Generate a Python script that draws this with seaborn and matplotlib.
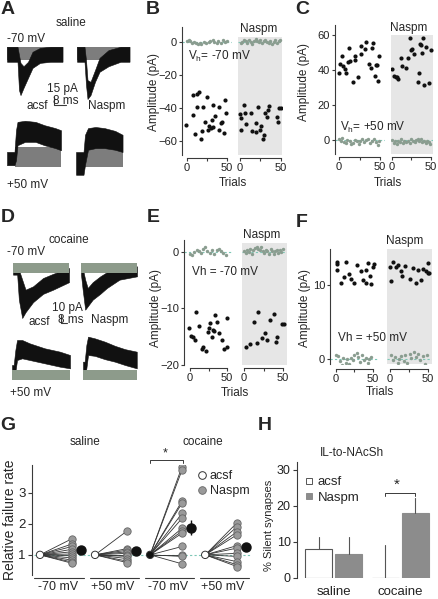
import numpy as np
import pandas as pd
import matplotlib
matplotlib.use("Agg")
import matplotlib.pyplot as plt
import matplotlib.transforms as mtransforms
from matplotlib.lines import Line2D
import seaborn as sns

W, H = 439, 599

# ---------------- A / D: envelopes of the overlaid sweeps (ms, pA) ----------------
a70_acsf_t = [0, 7, 8, 9, 11, 14, 17, 22, 29, 37]
a70_acsf_up = [13, 13, -2, -16, -22, -14, 4, 11, 13, 13]
a70_acsf_lo = [-14, -14, -65, -74, -61, -43, -25, -16, -14, -14]
a70_nas_t = [0, 5, 6, 7, 9, 12, 15, 21, 29, 35]
a70_nas_up = [13, 13, -11, -47, -50, -29, -7, 7, 13, 13]
a70_nas_lo = [-14, -14, -56, -81, -74, -50, -32, -22, -14, -14]
a50_acsf_t = [0, 5, 6, 7, 12, 19, 25, 32, 36]
a50_acsf_up = [11, 11, 50, 65, 67, 65, 59, 54, 50]
a50_acsf_lo = [-13, -13, -4, 23, 29, 29, 23, 18, 14]
a50_nas_t = [0, 5, 6, 8, 13, 19, 26, 31]
a50_nas_up = [18, 18, 49, 61, 63, 61, 56, 49]
a50_nas_lo = [-23, -23, -5, 22, 25, 25, 22, 18]

d70_acsf_t = [0, 5, 7, 11, 15, 24, 36, 48, 67]
d70_acsf_up = [6, 6, -2, -14, -26, -22, -12, -7, 0]
d70_acsf_lo = [-8, -8, -38, -60, -53, -41, -31, -26, -17]
d70_nas_t = [0, 2, 5, 8, 14, 23, 31, 46, 67]
d70_nas_up = [6, 0, -14, -24, -17, -10, -5, 0, 2]
d70_nas_lo = [-8, -26, -50, -46, -38, -31, -24, -14, -10]
d50_acsf_t = [0, 2, 4, 6, 12, 21, 39, 57, 69]
d50_acsf_up = [12, 12, 30, 42, 42, 38, 32, 28, 24]
d50_acsf_lo = [-4, -4, 4, 18, 20, 18, 14, 10, 8]
d50_nas_t = [0, 2, 4, 6, 14, 26, 38, 50, 64]
d50_nas_up = [16, 16, 36, 46, 44, 40, 35, 31, 28]
d50_nas_lo = [-4, -4, 8, 24, 23, 19, 16, 12, 8]

# failure sweeps (grey band): start/end time, upper, lower
a70_acsf_fail = ([0, 37], 13, -11)
a70_nas_fail = ([0, 35], 13, -11)
a50_acsf_fail = ([5, 36], 20, -16)
a50_nas_fail = ([6, 31], 27, -9)
d70_acsf_fail = ([0, 67], 6, -6)
d70_nas_fail = ([0, 67], 6, -6)
d50_acsf_fail = ([0, 69], 6, -6)
d50_nas_fail = ([0, 64], 6, -6)

# ---------------- B: saline, Vh -70 ----------------
b_acsf_t = [-1, 7, 8, 10, 12, 13, 15, 17, 19, 20, 23, 25, 26, 28, 30, 31, 32, 33, 35, 40, 40, 43, 44, 46, 48, 49]
b_acsf_v = [-50.3, -32, -44.5, -56, -39.5, -31.5, -30.4, -59, -54, -39.5, -48.5, -33.4, -53.3, -51, -52, -47,
            -51.5, -38.4, -45, -39.5, -53.5, -49.3, -48.5, -55, -35, -43]
b_nas_t = [0, 1, 1, 5, 6, 7, 13, 15, 19, 20, 22, 24, 26, 28, 29, 31, 33, 34, 35, 45, 46, 48, 50]
b_nas_v = [-43.5, -46, -53.5, -38.4, -43.3, -50, -43.3, -54, -49, -54.5, -39.5, -53.5, -51, -58.5, -56.5, -43,
           -45.5, -41.5, -39, -45.3, -48.3, -40.2, -40]
b_acsf_fail_t = [0, 2, 4, 6, 9, 11, 14, 16, 18, 21, 24, 27, 29, 32, 34, 37, 39, 42, 45, 47, 50]
b_acsf_fail_v = [0.8, 1.5, 0.6, -0.4, 0.2, -0.8, -1.2, -0.5, -1.0, 0.1, -0.6, -0.2, 0.7, 1.1, 0.3, -0.3, 0.9,
                 -0.7, 1.3, 0.2, 0.5]
b_nas_fail_t = [1, 3, 5, 7, 9, 11, 13, 15, 17, 19, 21, 23, 25, 27, 29, 31, 33, 35, 37, 39, 41, 43, 45, 47, 49]
b_nas_fail_v = [-0.5, 0.3, 1.5, 0.8, -0.6, 1.1, 0.2, -1.3, 0.6, 1.7, 0.4, -0.2, 1.0, -0.9, 0.5, 1.3, 0.0, -0.7,
                0.9, -1.1, 0.3, 1.2, -0.4, 0.6, 1.4]

# ---------------- C: saline, Vh +50 ----------------
c_acsf_t = [0, 1, 4, 5, 7, 8, 11, 12, 13, 17, 19, 20, 23, 27, 27, 32, 33, 36, 39, 40, 41, 44, 45, 46, 47, 49]
c_acsf_v = [38, 43.2, 48, 42, 40.6, 38.5, 44.4, 52.8, 45.3, 33.3, 48, 45.7, 35.8, 49, 53.7, 51.8, 56.2, 43.4,
            41, 52.8, 55.6, 36.6, 42.9, 42.9, 33.7, 48]
c_nas_t = [0, 3, 5, 7, 8, 11, 13, 18, 21, 23, 24, 26, 28, 33, 34, 36, 37, 39, 40, 41, 44, 47, 50]
c_nas_v = [40.4, 36.6, 36.2, 35.8, 34.7, 47, 42, 41.3, 46.7, 58, 51.4, 51.8, 49, 33.3, 38, 55, 54.3, 49.5, 58,
           31.4, 53.3, 32.4, 51.4]
c_acsf_fail_t = [0, 2, 4, 6, 8, 10, 13, 15, 17, 19, 22, 24, 26, 28, 31, 33, 35, 38, 40, 42, 45, 47, 49]
c_acsf_fail_v = [0.5, -0.3, 1.0, -1.2, -2.0, 0.2, -0.8, -2.5, -1.5, 0.0, -0.6, -2.2, -0.4, 0.6, -1.0, -0.2,
                 0.8, -1.8, -0.5, 0.3, -1.3, -2.6, -0.7]
c_nas_fail_t = [0, 2, 4, 6, 8, 10, 12, 14, 16, 18, 21, 23, 25, 27, 29, 31, 33, 35, 37, 39, 41, 43, 45, 47, 49]
c_nas_fail_v = [-0.2, -1.5, -0.8, -2.3, -0.5, -1.0, 0.3, -1.8, -0.6, -0.9, -0.3, -1.6, 0.5, -0.7, -1.2, 0.2,
                0.8, -0.4, 0.6, -1.1, -0.5, -2.0, -0.8, -1.4, -2.4]

# ---------------- E: cocaine, Vh -70 ----------------
e_acsf_t = [-1, 2, 4, 7, 8, 12, 16, 17, 21, 24, 25, 27, 30, 31, 33, 34, 37, 39, 43, 46, 50, 50]
e_acsf_v = [-13.5, -14.9, -15.1, -15.5, -10.6, -13.1, -17.2, -16.9, -17.6, -14.1, -13.4, -12.6, -15, -13.8,
            -13.9, -11.2, -12.4, -14.3, -15.6, -17.2, -11.6, -16.8]
e_nas_t = [2, 8, 13, 17, 18, 23, 27, 29, 33, 38, 41, 42, 49, 51]
e_nas_v = [-16.9, -16.2, -12.4, -16.1, -10.6, -15.3, -14.3, -15.6, -12.1, -10.9, -15.9, -15, -12.8, -12.8]
e_acsf_fail_t = [0, 3, 6, 9, 12, 15, 18, 20, 23, 27, 30, 33, 36, 39, 42, 45, 48]
e_acsf_fail_v = [-0.3, -0.6, 0.0, 0.4, 0.1, -0.2, 0.5, 0.8, 0.2, -0.1, 0.4, -0.3, 0.3, 0.6, 0.2, -0.2, -0.5]
e_nas_fail_t = [0, 2, 4, 6, 8, 10, 12, 14, 16, 18, 20, 22, 24, 26, 28, 30, 32, 34, 36, 38, 40, 42, 44, 46, 48, 50]
e_nas_fail_v = [0.1, -0.2, 0.3, 0.0, 0.5, -0.3, 0.4, 0.7, 0.9, 0.6, 0.3, 0.8, 0.2, -0.1, 0.4, 0.1, -0.3, 0.5,
                0.2, -0.4, 0.1, 0.3, -0.2, 0.4, 0.0, 0.5]

# ---------------- F: cocaine, Vh +50 ----------------
f_acsf_t = [1, 2, 2, 7, 11, 14, 17, 20, 25, 29, 34, 37, 40, 40, 43, 46, 47, 50, 51]
f_acsf_v = [13.1, 12.9, 12.0, 10.3, 11.1, 13.2, 11.5, 10.9, 10.3, 12.8, 11.9, 10.7, 10.3, 12.0, 13.0, 11.2,
            10.1, 12.4, 12.9]
f_nas_t = [0, 1, 4, 8, 11, 14, 16, 20, 26, 30, 34, 37, 41, 44, 47, 50, 50, 51]
f_nas_v = [12.5, 10.6, 13.1, 12.4, 12.8, 11.9, 11.2, 12.6, 10.8, 12.3, 10.3, 12.0, 10.7, 12.2, 11.9, 13.0,
           11.7, 11.6]
f_acsf_fail_t = [0, 3, 5, 8, 10, 13, 15, 18, 20, 23, 25, 28, 30, 33, 35, 38, 40, 43, 45, 48]
f_acsf_fail_v = [0.6, 0.4, -0.3, -0.8, 0.1, -0.5, 0.0, -0.7, 0.2, -0.2, 0.5, 0.8, 0.3, -0.4, 0.6, -0.1, 0.2,
                 -0.5, 0.0, 0.3]
f_nas_fail_t = [1, 4, 7, 10, 12, 15, 18, 20, 23, 26, 28, 31, 34, 37, 40, 43, 46, 49]
f_nas_fail_v = [0.5, -0.2, 0.3, -0.6, 0.0, 0.4, -0.3, 0.6, -0.5, 0.7, 0.2, 1.0, 0.3, 0.7, -0.1, 0.4, -0.7, 0.5]

# ---------------- G: relative failure rate ----------------
g_groups = ['-70 mV', '+50 mV', '-70 mV', '+50 mV']
g_naspm = [
    [1.52, 1.35, 1.27, 1.18, 1.1, 1.03, 0.97, 0.9, 0.83, 0.77, 0.73],
    [1.77, 1.2, 1.15, 1.1, 1.05, 1.0, 0.95, 0.88, 0.8, 0.75],
    [3.85, 3.74, 2.74, 2.67, 2.34, 2.18, 1.86, 1.77, 1.7, 1.27, 1.0, 0.95, 0.71],
    [2.04, 1.91, 1.75, 1.65, 1.3, 1.22, 1.05, 0.95, 0.78, 0.68, 0.62],
]
g_mean = [1.16, 1.14, 1.88, 1.25]
g_sem = [0.13, 0.1, 0.25, 0.12]

# ---------------- H: % silent synapses ----------------
h_group = ['saline', 'saline', 'cocaine', 'cocaine']
h_cond = ['acsf', 'Naspm', 'acsf', 'Naspm']
h_mean = [8.0, 6.6, 0.0, 18.0]
h_err = [3.4, 4.8, 9.2, 4.2]

# ---------------- style ----------------
BLACK = '#111111'
GREY_A = '#7d7d7d'
GREY_D = '#8d9b8b'
FAIL = '#8a9d90'
TEAL = '#7cc7b6'
SHADE = '#e6e6e6'
AX = '#3a3a3a'

sns.set_style("white")
plt.rcParams['font.family'] = ['Liberation Sans', 'DejaVu Sans']
plt.rcParams['mathtext.fontset'] = 'custom'
plt.rcParams['mathtext.rm'] = 'Liberation Sans'
plt.rcParams['font.size'] = 8
plt.rcParams['axes.edgecolor'] = AX
plt.rcParams['axes.linewidth'] = 0.8
for k in ('xtick', 'ytick'):
    plt.rcParams[k + '.color'] = AX
    plt.rcParams[k + '.labelcolor'] = '#222222'
    plt.rcParams[k + '.major.size'] = 2
    plt.rcParams[k + '.major.width'] = 0.8
    plt.rcParams[k + '.major.pad'] = 1.5
    plt.rcParams[k + '.labelsize'] = 8
plt.rcParams['xtick.bottom'] = True
plt.rcParams['ytick.left'] = True

fig = plt.figure(figsize=(W / 100, H / 100), dpi=100)


def box(l, t, r, b):
    return [l / W, 1 - b / H, (r - l) / W, (b - t) / H]


def txt(x, y, s, size=8.5, ha='center', **kw):
    fig.text(x / W, 1 - y / H, s, fontsize=size, ha=ha, va='center', **kw)


def trace(rect, xlim, ylim, t, up, lo, fail, grey, grey_top):
    ax = fig.add_axes(box(*rect))
    ax.set_xlim(*xlim)
    ax.set_ylim(*ylim)
    ax.axis('off')
    zb, zg = (1, 2) if grey_top else (2, 1)
    ax.fill_between(t, up, lo, color=BLACK, lw=0.4, zorder=zb)
    ft, fu, fl = fail
    ax.fill_between(ft, [fu, fu], [fl, fl], color=grey, lw=0, zorder=zg)
    return ax


def amp_panel(lrect, rrect, lxlim, rxlim, ylim, yticks, shade_top, offset,
              at, av, aft, afv, nt, nv, nft, nfv):
    axl = fig.add_axes(box(*lrect))
    axr = fig.add_axes(box(*rrect))
    for ax, xl in ((axl, lxlim), (axr, rxlim)):
        ax.set_xlim(*xl)
        ax.set_ylim(*ylim)
        ax.patch.set_alpha(0)
        ax.spines['top'].set_visible(False)
        ax.spines['right'].set_visible(False)
        ax.spines['bottom'].set_position(('outward', offset))
        ax.spines['bottom'].set_bounds(0, 50)
        ax.set_xticks([0, 25, 50])
        ax.set_xticklabels(['0', '', '50'])
        ax.plot(xl, [0, 0], ls=(0, (2, 2)), color=TEAL, lw=0.8, zorder=1)
    axr.spines['left'].set_visible(False)
    axr.tick_params(axis='y', left=False, labelleft=False)
    axr.axhspan(ylim[0], shade_top, color=SHADE, lw=0, zorder=0)
    axl.set_yticks(yticks)
    for ax, ft, fv, t, v in ((axl, aft, afv, at, av), (axr, nft, nfv, nt, nv)):
        sns.scatterplot(x=ft, y=fv, ax=ax, color=FAIL, s=6, linewidth=0, zorder=2, legend=False)
        sns.scatterplot(x=t, y=v, ax=ax, color=BLACK, s=9, linewidth=0, zorder=3, legend=False)
    return axl, axr


# ---------------- A ----------------
txt(8, 10, 'A', size=14, weight='bold')
txt(71, 23, 'saline')
txt(7, 39, '-70 mV', ha='left')
ax = trace((7, 45, 63, 97), (0, 37.3), (-77.4, 16.2), a70_acsf_t, a70_acsf_up, a70_acsf_lo,
           a70_acsf_fail, GREY_A, False)
ax.plot([31.3, 31.3, 39.3], [-77, -92, -92], color=AX, lw=0.8, clip_on=False)
trace((77, 45, 130, 100), (0, 35.3), (-82.8, 16.2), a70_nas_t, a70_nas_up, a70_nas_lo,
      a70_nas_fail, GREY_A, False)
trace((7, 119, 61, 168), (0, 36), (-18, 70.2), a50_acsf_t, a50_acsf_up, a50_acsf_lo,
      a50_acsf_fail, GREY_A, False)
trace((76, 125, 123, 177), (0, 31.3), (-27, 66.6), a50_nas_t, a50_nas_up, a50_nas_lo,
      a50_nas_fail, GREY_A, False)
txt(62, 89, '15 pA')
txt(66, 101, '8 ms')
txt(37, 106, 'acsf')
txt(107, 106, 'Naspm')
txt(7, 185, '+50 mV', ha='left')

# ---------------- D ----------------
txt(8, 218, 'D', size=14, weight='bold')
txt(69, 240, 'cocaine')
txt(7, 252, '-70 mV', ha='left')
ax = trace((13, 260, 69, 322), (0, 67), (-64.8, 9.6), d70_acsf_t, d70_acsf_up, d70_acsf_lo,
           d70_acsf_fail, GREY_D, True)
ax.plot([57, 57, 65], [-56.4, -66.4, -66.4], color=AX, lw=0.8, clip_on=False)
trace((81, 258, 137, 313), (0, 67), (-54, 12), d70_nas_t, d70_nas_up, d70_nas_lo,
      d70_nas_fail, GREY_D, True)
trace((12, 335, 70, 383), (0, 69), (-9.6, 48), d50_acsf_t, d50_acsf_up, d50_acsf_lo,
      d50_acsf_fail, GREY_D, True)
trace((83, 332, 137, 382), (0, 64.3), (-8.4, 51.6), d50_nas_t, d50_nas_up, d50_nas_lo,
      d50_nas_fail, GREY_D, True)
txt(67, 308, '10 pA')
txt(71, 320, '8 ms')
txt(39, 322, 'acsf')
txt(110, 320, 'Naspm')
txt(10, 393, '+50 mV', ha='left')

# ---------------- B / C / E / F ----------------
amp_panel((182, 27, 232, 155), (238, 27, 282, 155), (-6.25, 56.25), (-2.4, 51.2), (-68.5, 9.1),
          [0, -20, -40, -60], 3, 2.2, b_acsf_t, b_acsf_v, b_acsf_fail_t, b_acsf_fail_v,
          b_nas_t, b_nas_v, b_nas_fail_t, b_nas_fail_v)
txt(153, 10, 'B', size=14, weight='bold')
txt(259, 29, 'Naspm')
txt(188, 56, r'V$_\mathregular{h}$= -70 mV', ha='left')
txt(233, 183, 'Trials')
txt(154, 92, 'Amplitude (pA)', rotation=90)

amp_panel((335, 25, 385, 154), (391, 25, 433, 154), (-4.9, 56), (-1.3, 52.6), (-8, 65.7),
          [0, 20, 40, 60], 60, 2.5, c_acsf_t, c_acsf_v, c_acsf_fail_t, c_acsf_fail_v,
          c_nas_t, c_nas_v, c_nas_fail_t, c_nas_fail_v)
txt(302, 10, 'C', size=14, weight='bold')
txt(409, 28, 'Naspm')
txt(340, 127, r'V$_\mathregular{h}$= +50 mV', ha='left')
txt(388, 183, 'Trials')
txt(304, 82, 'Amplitude (pA)', rotation=90)

amp_panel((184, 240, 233, 365), (242, 240, 287, 365), (-8.1, 58), (-2.6, 55.1), (-20, 2.12),
          [0, -10, -20], 1.6, 2.2, e_acsf_t, e_acsf_v, e_acsf_fail_t, e_acsf_fail_v,
          e_nas_t, e_nas_v, e_nas_fail_t, e_nas_fail_v)
txt(153, 218, 'E', size=14, weight='bold')
txt(262, 235, 'Naspm')
txt(192, 272, 'Vh = -70 mV', ha='left')
txt(235, 393, 'Trials')
txt(156, 308, 'Amplitude (pA)', rotation=90)

amp_panel((330, 249, 378, 364), (387, 249, 432, 364), (-8.1, 56.8), (-3.9, 55.3), (-0.68, 14.9),
          [0, 10], 14.9, 3.6, f_acsf_t, f_acsf_v, f_acsf_fail_t, f_acsf_fail_v,
          f_nas_t, f_nas_v, f_nas_fail_t, f_nas_fail_v)
txt(302, 222, 'F', size=14, weight='bold')
txt(405, 241, 'Naspm')
txt(338, 338, 'Vh = +50 mV', ha='left')
txt(380, 392, 'Trials')
txt(305, 308, 'Amplitude (pA)', rotation=90)

# ---------------- G ----------------
axg = fig.add_axes(box(32, 465, 252, 575))
axg.set_xlim(-0.145, 3.85)
axg.set_ylim(0.35, 3.9)
axg.patch.set_alpha(0)
for s in ('top', 'right', 'bottom'):
    axg.spines[s].set_visible(False)
axg.set_xticks([])
axg.set_yticks([1, 2, 3])
axg.tick_params(axis='y', labelsize=9.5, length=3)
axg.plot([-0.1, 3.85], [1, 1], ls=(0, (2, 2)), color=TEAL, lw=0.8, zorder=1)

rows = []
for i, vals in enumerate(g_naspm):
    for v in vals:
        rows.append({'x': i + 0.58, 'y': v})
        axg.plot([i, i + 0.58], [1, v], color='#333333', lw=0.6, zorder=2)
g_df = pd.DataFrame(rows)
sns.scatterplot(data=g_df, x='x', y='y', ax=axg, color='#9a9a9a', edgecolor='#666666',
                s=28, linewidth=0.6, zorder=3, legend=False)
acsf_face = ['white', 'white', BLACK, 'white']
sns.scatterplot(x=np.arange(4), y=np.ones(4), ax=axg, c=acsf_face, edgecolor='#333333',
                s=28, linewidth=0.7, zorder=4, legend=False)
axg.errorbar(np.arange(4) + 0.75, g_mean, yerr=g_sem, fmt='o', color=BLACK, ms=6.5,
             elinewidth=1, capsize=0, zorder=5)
axg.set_xlabel('')
axg.set_ylabel('')

trans = mtransforms.blended_transform_factory(axg.transData, axg.transAxes)
for i, g in enumerate(g_groups):
    axg.plot([i - 0.1, i + 0.8], [-0.027, -0.027], transform=trans, color=AX, lw=0.8, clip_on=False)
    txt(58 + 55 * i, 587, g, size=9)

axg.plot([2, 2, 2.6, 2.6], [3.96, 4.06, 4.06, 3.96], color=AX, lw=0.7, clip_on=False)
txt(165, 453, '*', size=9)
txt(8, 426, 'G', size=14, weight='bold')
txt(85, 442, 'saline')
txt(203, 442, 'cocaine')
txt(10, 520, 'Relative failure rate', size=10, rotation=90)
g_handles = [Line2D([], [], marker='o', ls='', mfc='white', mec='#333333', ms=5.5, mew=0.7),
             Line2D([], [], marker='o', ls='', mfc='#9a9a9a', mec='#666666', ms=5.5, mew=0.6)]
axg.legend(g_handles, ['acsf', 'Naspm'], loc='upper left', bbox_to_anchor=(196 / W, 1 - 470 / H),
           bbox_transform=fig.transFigure, frameon=False, handletextpad=0.1, handlelength=1.0,
           borderpad=0, borderaxespad=0, labelspacing=0.25, fontsize=9)

# ---------------- H ----------------
axh = fig.add_axes(box(297, 462, 432, 578))
h_df = pd.DataFrame({'group': h_group, 'cond': h_cond, 'pct': h_mean})
sns.barplot(data=h_df, x='group', y='pct', hue='cond', hue_order=['acsf', 'Naspm'],
            order=['saline', 'cocaine'], palette={'acsf': 'white', 'Naspm': '#8c8c8c'},
            width=0.9, gap=0.1, errorbar=None, legend=False, ax=axh, linewidth=0.8)
axh.set_xlim(-0.55, 1.48)
axh.set_ylim(0, 32.2)
bars = sorted(axh.patches, key=lambda p: p.get_x())
for p, m, e, c in zip(bars, h_mean, h_err, h_cond):
    p.set_edgecolor('#555555' if c == 'acsf' else '#8c8c8c')
    xc = p.get_x() + p.get_width() / 2
    axh.plot([xc, xc], [m, m + e], color='#555555', lw=0.8, zorder=1)
for s in ('top', 'right', 'bottom'):
    axh.spines[s].set_visible(False)
axh.set_yticks([0, 10, 20, 30])
axh.tick_params(axis='y', labelsize=9, length=3)
axh.tick_params(axis='x', length=0, pad=6, labelsize=9.5)
axh.set_xlabel('')
axh.set_ylabel('')
axh.plot([0.775, 0.775, 1.225, 1.225], [22.8, 23.6, 23.6, 22.8], color=AX, lw=0.7, clip_on=False)
txt(397, 485, '*', size=11)
txt(265, 426, 'H', size=14, weight='bold')
txt(352, 453, 'IL-to-NAcSh', size=8.5)
txt(269, 525, '% Silent synapses', size=8, rotation=90)
h_handles = [Line2D([], [], marker='s', ls='', mfc='white', mec='#555555', ms=5, mew=0.7),
             Line2D([], [], marker='s', ls='', mfc='#8c8c8c', mec='#8c8c8c', ms=5, mew=0.7)]
axh.legend(h_handles, ['acsf', 'Naspm'], loc='upper left', bbox_to_anchor=(302 / W, 1 - 476 / H),
           bbox_transform=fig.transFigure, frameon=False, handletextpad=0.2, handlelength=1.0,
           borderpad=0, borderaxespad=0, labelspacing=0.25, fontsize=9.5)

fig.savefig('out.png', dpi=100)
